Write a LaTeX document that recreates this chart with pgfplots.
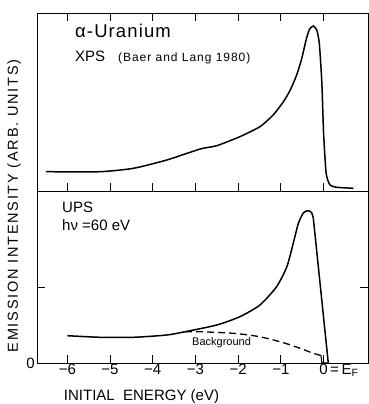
\documentclass[border=0pt]{standalone}
\usepackage{fontspec}
\setmainfont{Liberation Sans}
\newfontfamily\lsA[LetterSpace=12]{Liberation Sans}
\newfontfamily\lsB[LetterSpace=6]{Liberation Sans}
\newfontfamily\lsC[LetterSpace=8]{Liberation Sans}
\usepackage{pgfplots}
\pgfplotsset{compat=1.18}
\begin{document}
\begin{tikzpicture}
\path[use as bounding box] (-37pt,-41pt) rectangle (332pt,363pt);
% lower panel (UPS)
\begin{axis}[
  at={(0pt,0pt)}, anchor=south west, scale only axis,
  width=331pt, height=172pt,
  xmin=-6.71, xmax=1.04, ymin=0, ymax=1.72,
  axis line style={line width=0.9pt},
  tick style={line width=0.9pt, black},
  tick align=inside, major tick length=8pt,
  xtick={-6,-5,-4,-3,-2,-1,0},
  xticklabels={−6,−5,−4,−3,−2,−1,{0\rlap{\,=\,E\textsubscript{F}}}},
  xtick pos=bottom,
  xticklabel style={font=\fontsize{15}{17}\selectfont, inner sep=1pt},
  ytick={0,0.76}, yticklabels={0,{}}, ytick pos=both,
  yticklabel style={font=\fontsize{15}{17}\selectfont, inner sep=2pt},
  clip=false,
]
\addplot[line width=1.5pt, smooth, tension=0.4] coordinates {
(-6.0,0.273) (-5.23,0.257) (-4.45,0.257) (-3.67,0.28) (-3.24,0.313)
(-2.50,0.38) (-1.96,0.463) (-1.49,0.58) (-1.10,0.763) (-0.86,0.963)
(-0.71,1.197) (-0.59,1.397) (-0.47,1.503) (-0.36,1.523) (-0.28,1.503)
(-0.24,1.447)};
\addplot[line width=1.5pt] coordinates {(-0.24,1.447) (0.11,0.0)};
\addplot[line width=1.3pt, dash pattern=on 7pt off 4pt, smooth, tension=0.4] coordinates {
(-3.24,0.313) (-2.89,0.313) (-2.11,0.297) (-1.64,0.273) (-1.33,0.247)
(-0.94,0.203) (-0.55,0.147) (-0.24,0.097) (-0.06,0.075)};
\addplot[line width=1.1pt] coordinates {(-0.06,0.075) (-0.04,0.0) (0.11,0.0)};
\end{axis}
% upper panel (XPS)
\begin{axis}[
  at={(0pt,172pt)}, anchor=south west, scale only axis,
  width=331pt, height=178pt,
  xmin=-6.71, xmax=1.04, ymin=0, ymax=1.78,
  axis line style={line width=0.9pt},
  tick style={line width=0.9pt, black},
  tick align=inside, major tick length=8pt,
  xtick={-6,-5,-4,-3,-2,-1,0}, xticklabels={},
  xtick pos=both,
  ytick=\empty,
]
\addplot[line width=1.5pt, smooth, tension=0.35] coordinates {
(-6.50,0.193) (-5.23,0.193) (-4.45,0.227) (-3.67,0.31) (-2.89,0.42)
(-2.50,0.453) (-1.96,0.543) (-1.49,0.643) (-1.18,0.76) (-0.94,0.893)
(-0.78,1.01) (-0.63,1.16) (-0.51,1.327) (-0.41,1.51) (-0.33,1.617)
(-0.24,1.65) (-0.16,1.61) (-0.10,1.477) (-0.04,1.077) (0.00,0.577)
(0.06,0.177) (0.15,0.06) (0.31,0.037) (0.70,0.027)};
\end{axis}
% texts
\node[anchor=base west, inner sep=0pt] at (38pt,325pt) {\lsB\fontsize{18.5}{20}\selectfont α-Uranium};
\node[anchor=base west, inner sep=0pt] at (38pt,301pt) {\fontsize{15}{17}\selectfont XPS};
\node[anchor=base west, inner sep=0pt] at (81pt,301pt) {\lsC\fontsize{12}{14}\selectfont (Baer and Lang 1980)};
\node[anchor=base west, inner sep=0pt] at (25pt,150pt) {\fontsize{15}{17}\selectfont UPS};
\node[anchor=base west, inner sep=0pt] at (25pt,132pt) {\fontsize{15}{17}\selectfont hν =60 eV};
\node[anchor=base west, inner sep=0pt] at (155pt,17pt) {\fontsize{11}{13}\selectfont Background};
\node[rotate=90, anchor=center, inner sep=0pt] at (-23pt,157pt) {\lsA\fontsize{14.5}{16}\selectfont EMISSION INTENSITY (ARB. UNITS)};
\node[anchor=base, inner sep=0pt] at (104.5pt,-37pt) {\fontsize{15}{17}\selectfont INITIAL\ \ ENERGY (eV)};
\end{tikzpicture}
\end{document}
